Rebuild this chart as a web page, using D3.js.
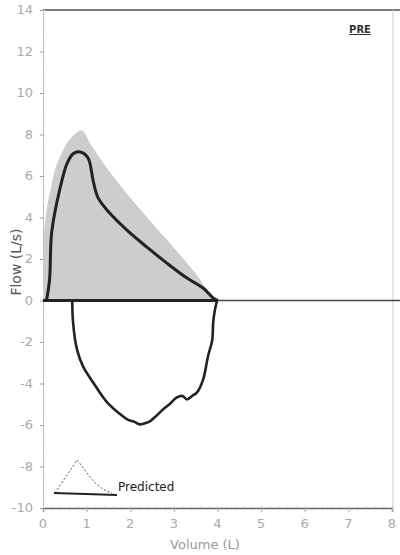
<!DOCTYPE html>
<html>
<head>
<meta charset="utf-8">
<script src="https://cdn.jsdelivr.net/npm/d3@7"></script>
<style>
  html, body { margin: 0; padding: 0; background: #fff; }
  svg { display: block; font-family: "DejaVu Sans", "Liberation Sans", sans-serif; }
</style>
</head>
<body>
<svg id="chart" width="400" height="555"></svg>
<script>
/* ── DATA ─────────────────────────────────────────────── */

// predicted envelope (shaded)
const predVol  = [0, 0.02, 0.2, 0.45, 0.7, 0.88, 1.1, 1.6, 2.1, 2.6, 3.1, 3.6, 3.9];
const predFlow = [0, 3.0, 5.6, 7.2, 7.95, 8.2, 7.5, 6.0, 4.7, 3.5, 2.3, 1.0, 0];

// measured expiratory limb
const expVol  = [0.08, 0.15, 0.2, 0.39, 0.55, 0.69, 0.85, 1.03, 1.15, 1.26, 1.54, 1.93, 2.39, 2.84, 3.3, 3.67, 3.9, 4.01];
const expFlow = [0, 1.0, 3.3, 5.4, 6.6, 7.07, 7.16, 6.88, 5.77, 4.96, 4.19, 3.38, 2.56, 1.8, 1.08, 0.6, 0.12, 0];

// measured inspiratory limb
const insVol  = [0.67, 0.69, 0.78, 0.92, 1.15, 1.47, 1.83, 1.95, 2.1, 2.22, 2.35, 2.45, 2.6, 2.75, 2.9, 3.07, 3.2, 3.3, 3.42, 3.53, 3.67, 3.78, 3.88, 3.9, 3.94, 3.99];
const insFlow = [0, -1.08, -2.37, -3.19, -3.95, -4.91, -5.58, -5.75, -5.85, -5.97, -5.9, -5.82, -5.55, -5.25, -5.0, -4.67, -4.6, -4.77, -4.6, -4.43, -3.81, -2.71, -1.9, -1.08, -0.46, 0];

const xTicks = [0, 1, 2, 3, 4, 5, 6, 7, 8];
const yTicks = [-10, -8, -6, -4, -2, 0, 2, 4, 6, 8, 10, 12, 14];

/* ── SCALES ───────────────────────────────────────────── */

const svg = d3.select("#chart");
const x = d3.scaleLinear().domain([0, 8]).range([43, 392]);
const y = d3.scaleLinear().domain([-10, 14]).range([508, 10]);

const zip = (a, b) => a.map((v, i) => [v, b[i]]);

/* ── FRAME + AXES ─────────────────────────────────────── */

// top border
svg.append("line")
  .attr("x1", x(0)).attr("x2", 400)
  .attr("y1", y(14)).attr("y2", y(14))
  .attr("stroke", "#555").attr("stroke-width", 1.6);

// right border
svg.append("line")
  .attr("x1", x(8) + 1).attr("x2", x(8) + 1)
  .attr("y1", y(14)).attr("y2", y(-10) + 4)
  .attr("stroke", "#ccc").attr("stroke-width", 1);

// left axis
const yAxis = svg.append("g")
  .attr("transform", `translate(${x(0)},0)`)
  .call(d3.axisLeft(y).tickValues(yTicks).tickSize(3).tickFormat(""));
yAxis.select(".domain").attr("stroke", "#bbb");
yAxis.selectAll("line").attr("stroke", "#999");
svg.append("g")
  .attr("transform", `translate(${x(0)},0)`)
  .call(d3.axisRight(y).ticks(48).tickSize(2).tickFormat(""))
  .call(g => g.select(".domain").remove())
  .call(g => g.selectAll("line").attr("stroke", "#ccc"));

svg.append("g").selectAll("text")
  .data(yTicks)
  .join("text")
  .attr("x", 33)
  .attr("y", d => y(d) + 4)
  .attr("text-anchor", "end")
  .attr("font-size", 13)
  .attr("fill", "#aaa")
  .text(d => d);

// bottom axis
const xAxis = svg.append("g")
  .attr("transform", `translate(0,${y(-10)})`)
  .call(d3.axisBottom(x).tickValues(xTicks).tickSize(4).tickFormat(""));
xAxis.select(".domain").attr("stroke", "#666").attr("stroke-width", 1.4);
xAxis.selectAll("line").attr("stroke", "#aaa");
svg.append("g")
  .attr("transform", `translate(0,${y(-10)})`)
  .call(d3.axisTop(x).ticks(32).tickSize(2).tickFormat(""))
  .call(g => g.select(".domain").remove())
  .call(g => g.selectAll("line").attr("stroke", "#ccc"));

svg.append("g").selectAll("text")
  .data(xTicks)
  .join("text")
  .attr("x", d => x(d))
  .attr("y", 528)
  .attr("text-anchor", "middle")
  .attr("font-size", 13)
  .attr("fill", "#aaa")
  .text(d => d);

svg.append("text")
  .attr("x", 205).attr("y", 549)
  .attr("text-anchor", "middle")
  .attr("font-size", 13)
  .attr("fill", "#999")
  .text("Volume (L)");

svg.append("text")
  .attr("transform", "translate(21,262) rotate(-90)")
  .attr("text-anchor", "middle")
  .attr("font-size", 14)
  .attr("fill", "#555")
  .text("Flow (L/s)");

/* ── PREDICTED SHADE ──────────────────────────────────── */

svg.append("path")
  .datum(zip(predVol, predFlow))
  .attr("d", d3.area().x(d => x(d[0])).y0(y(0)).y1(d => y(d[1])).curve(d3.curveMonotoneX))
  .attr("fill", "#cdcdcd");

// zero line
svg.append("line")
  .attr("x1", x(0)).attr("x2", 400)
  .attr("y1", y(0)).attr("y2", y(0))
  .attr("stroke", "#444").attr("stroke-width", 1.4);

/* ── MEASURED LOOP ────────────────────────────────────── */

const line = d3.line().x(d => x(d[0])).y(d => y(d[1]));

svg.append("path")
  .datum([[0, 0], [expVol[expVol.length - 1], 0]])
  .attr("d", line)
  .attr("stroke", "#222").attr("stroke-width", 3).attr("fill", "none");

svg.append("path")
  .datum(zip(expVol, expFlow))
  .attr("d", line.curve(d3.curveCatmullRom))
  .attr("stroke", "#222").attr("stroke-width", 3)
  .attr("stroke-linejoin", "round").attr("fill", "none");

svg.append("path")
  .datum(zip(insVol, insFlow))
  .attr("d", d3.line().x(d => x(d[0])).y(d => y(d[1])).curve(d3.curveCatmullRom))
  .attr("stroke", "#222").attr("stroke-width", 2.6)
  .attr("stroke-linejoin", "round").attr("fill", "none");

/* ── LEGEND + LABEL ───────────────────────────────────── */

const lg = svg.append("g").attr("transform", "translate(54,493)");
lg.append("path")
  .attr("d", "M1,0 L23,-33 C33,-22 40,-5 58,0")
  .attr("fill", "none").attr("stroke", "#555")
  .attr("stroke-width", 1).attr("stroke-dasharray", "2,2");
lg.append("line")
  .attr("x1", 0).attr("x2", 63).attr("y1", 0).attr("y2", 2)
  .attr("stroke", "#222").attr("stroke-width", 1.8);
lg.append("text")
  .attr("x", 64).attr("y", -2)
  .attr("font-size", 12)
  .attr("fill", "#222")
  .text("Predicted");

svg.append("text")
  .attr("x", 360).attr("y", 33)
  .attr("text-anchor", "middle")
  .attr("font-size", 10)
  .attr("font-weight", "bold")
  .attr("text-decoration", "underline")
  .attr("fill", "#333")
  .text("PRE");
</script>
</body>
</html>
